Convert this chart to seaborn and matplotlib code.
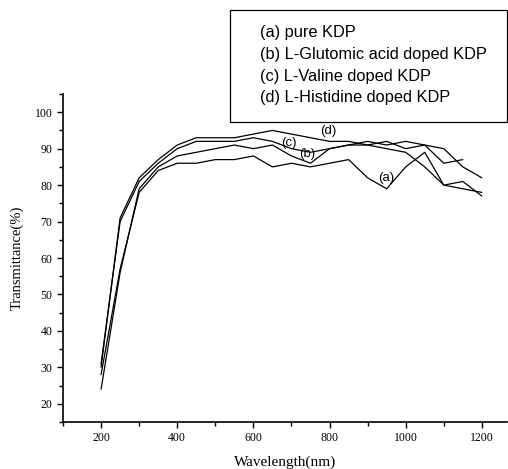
import numpy as np
import pandas as pd
import matplotlib
matplotlib.use("Agg")
import matplotlib.pyplot as plt
import seaborn as sns
from matplotlib.patches import Rectangle
from matplotlib.ticker import MultipleLocator

wavelength = [200, 250, 300, 350, 400, 450, 500, 550, 600, 650, 700,
              750, 800, 850, 900, 950, 1000, 1050, 1100, 1150, 1200]

pure_kdp = [28, 57, 78, 84, 86, 86, 87, 87, 88, 85, 86,
            85, 86, 87, 82, 79, 85, 89, 80, 81, 77]
glutamic = [24, 56, 79, 85, 88, 89, 90, 91, 90, 91, 88,
            86, 90, 91, 91, 90, 89, 85, 80, 79, 78]
valine = [31, 70, 81, 86, 90, 92, 92, 92, 93, 92, 90,
          89, 90, 91, 92, 91, 92, 91, 86, 87, None]
histidine = [30, 71, 82, 87, 91, 93, 93, 93, 94, 95, 94,
             93, 92, 92, 91, 92, 90, 91, 90, 85, 82]

series_names = ["(a)", "(b)", "(c)", "(d)"]
legend_labels = ["(a) pure KDP", "(b) L-Glutomic acid doped KDP",
                 "(c) L-Valine doped KDP", "(d) L-Histidine doped KDP"]
label_pos = {"(a)": (948, 82.0), "(b)": (741, 88.6), "(c)": (692, 91.5), "(d)": (797, 94.8)}

frames = []
for name, vals in zip(series_names, [pure_kdp, glutamic, valine, histidine]):
    frames.append(pd.DataFrame({"Wavelength": wavelength, "T": vals, "s": name}))
df = pd.concat(frames, ignore_index=True).dropna()

sns.set_style("white")
plt.rcParams["text.color"] = "black"
plt.rcParams["axes.labelcolor"] = "black"
plt.rcParams["xtick.color"] = "black"
plt.rcParams["ytick.color"] = "black"

W, H = 508, 469
fig = plt.figure(figsize=(W / 100, H / 100), dpi=100)
ax = fig.add_axes([63 / W, 1 - 422 / H, (507 - 63) / W, (422 - 94) / H])

sns.lineplot(data=df, x="Wavelength", y="T", hue="s", units="s", estimator=None,
             palette={n: "black" for n in series_names}, linewidth=0.9,
             legend=False, ax=ax, sort=False)

ax.set_xlim(100, 1266)
ax.set_ylim(15, 105)
ax.xaxis.set_minor_locator(MultipleLocator(100))
ax.yaxis.set_minor_locator(MultipleLocator(5))
ax.set_xticks([200, 400, 600, 800, 1000, 1200])
ax.set_yticks([20, 30, 40, 50, 60, 70, 80, 90, 100])

serif = ["Liberation Serif", "DejaVu Serif"]
for lab in ax.get_xticklabels() + ax.get_yticklabels():
    lab.set_fontfamily(serif)
    lab.set_fontsize(8.5)
    lab.set_color("black")
ax.tick_params(which="major", direction="out", length=4.5, width=1.0, color="black", pad=3)
ax.tick_params(which="minor", direction="out", length=3, width=1.0, color="black")
ax.tick_params(axis="both", which="both", bottom=True, left=True)

for side in ["top", "right"]:
    ax.spines[side].set_visible(False)
for side in ["left", "bottom"]:
    ax.spines[side].set_linewidth(1.2)
    ax.spines[side].set_color("black")

ax.set_xlabel("Wavelength(nm)", fontfamily=serif, fontsize=11, labelpad=8, color="black")
ax.set_ylabel("Transmittance(%)", fontfamily=serif, fontsize=10.5, labelpad=8, color="black")
ax.grid(False)

sans = ["Liberation Sans", "DejaVu Sans"]
for name in series_names:
    x, y = label_pos[name]
    ax.text(x, y, name, fontfamily=sans, fontsize=9.5, ha="center", va="center", color="black")

# legend box
rect = Rectangle((230 / W, 1 - 122 / H), (507 - 230) / W, (122 - 10) / H,
                 transform=fig.transFigure, fill=False, edgecolor="black", linewidth=0.9)
fig.add_artist(rect)
for i, txt in enumerate(legend_labels):
    ypx = 33 + i * 21.5
    fig.text(260 / W, 1 - ypx / H, txt, fontfamily=sans, fontsize=11.8, ha="left",
             va="center", color="black")

fig.savefig("out.png", dpi=100)
